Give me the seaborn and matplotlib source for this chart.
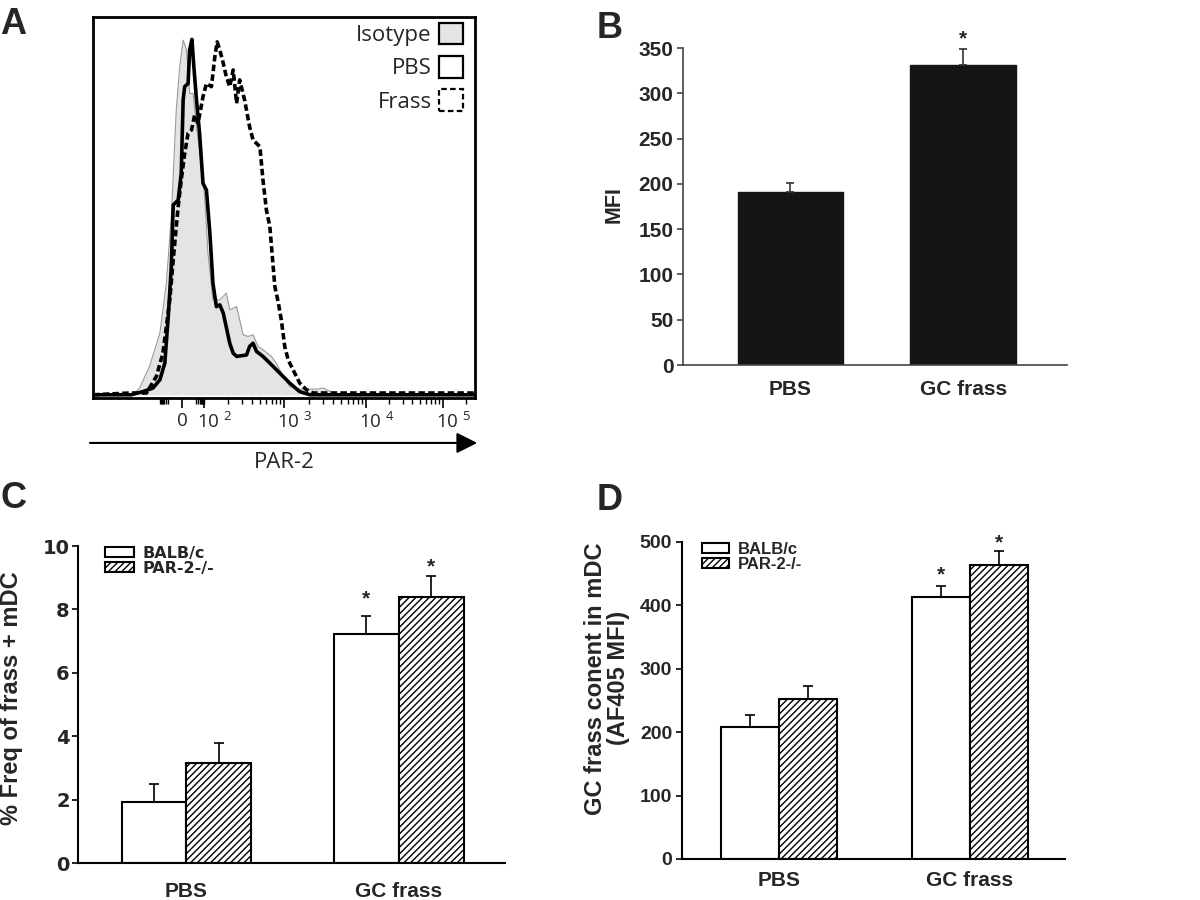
import numpy as np
import pandas as pd
import matplotlib
matplotlib.use("Agg")
import matplotlib.pyplot as plt
import matplotlib.transforms as mtrans
from matplotlib.patches import Patch
import seaborn as sns

# ---- panel A: PAR-2 histograms (x = % of display scale, y = % of max) ----
iso_x = [0, 10.5, 12.2, 14.8, 17.5, 19.2, 20.5, 21.8, 22.7, 23.6, 24.5, 25.3, 26.2, 27.1, 28.4, 29.3,
         30.1, 31.4, 33.2, 34.9, 35.8, 37.6, 38.4, 39.3, 40.6, 41.9, 43.2, 44.5, 46.7, 48.0, 49.8,
         51.5, 54.1, 58.5, 60.3, 62.9, 65.0, 100]
iso_y = [0, 0, 1.9, 8.0, 17.3, 31.4, 50.1, 80.1, 92.3, 99.8, 97.0, 84.8, 84.8, 75.4, 64.2, 54.8,
         39.8, 26.7, 26.7, 28.6, 23.9, 24.8, 21.1, 16.9, 16.4, 16.9, 13.6, 12.7, 10.8, 8.9, 5.2,
         2.3, 1.6, 1.6, 1.9, 0.5, 0, 0]
pbs_x = [0, 10.0, 13.1, 15.7, 17.5, 18.8, 19.7, 20.5, 21.0, 22.3, 23.1, 23.6, 24.0, 24.9, 25.3, 25.9,
         26.4, 27.1, 27.9, 28.8, 29.7, 30.6, 31.4, 32.3, 33.2, 34.1, 35.8, 36.7, 37.6, 40.2, 41.0,
         41.9, 42.8, 44.5, 46.3, 48.9, 51.5, 54.1, 56.8, 100]
pbs_y = [0, 0, 0.9, 1.9, 4.2, 8.9, 22.0, 36.1, 53.4, 54.8, 62.3, 82.9, 86.7, 87.6, 97.0, 100,
         92.3, 82.9, 73.6, 59.5, 57.6, 45.5, 31.4, 24.8, 25.3, 23.0, 14.5, 11.7, 10.8, 11.2, 13.6,
         14.5, 12.2, 10.8, 8.9, 6.1, 3.3, 0.9, 0, 0]
frass_x = [0, 9.6, 14.0, 16.6, 18.3, 20.1, 21.0, 22.3, 23.1, 24.0, 24.9, 25.8, 26.6, 27.5, 28.8, 29.7,
           31.0, 31.9, 32.5, 33.2, 34.1, 34.9, 35.8, 36.7, 37.6, 38.4, 39.7, 41.0, 41.9, 43.7, 44.5,
           45.4, 46.3, 47.6, 48.5, 49.3, 50.2, 51.1, 52.4, 54.1, 55.9, 57.6, 69.9, 100]
frass_y = [0, 0.5, 0.5, 5.2, 11.7, 26.7, 38.0, 53.0, 60.4, 67.9, 73.6, 74.5, 78.7, 76.4, 83.9, 87.6,
           86.7, 95.1, 99.3, 97.0, 93.3, 89.5, 86.7, 91.4, 82.0, 88.6, 82.9, 75.4, 71.7, 69.8, 60.4,
           52.0, 47.3, 30.5, 26.0, 21.1, 13.6, 9.8, 7.0, 3.3, 1.4, 0.5, 0.5, 0.5]
hist_labels = ["Isotype", "PBS", "Frass"]
decade_pos = [23.3, 29.1, 50.0, 71.5, 91.6]   # 0, 10^2, 10^3, 10^4, 10^5
decade_labels = ["0", "10 $^{2}$", "10 $^{3}$", "10 $^{4}$", "10 $^{5}$"]

# ---- panel B ----
groups = ["PBS", "GC frass"]
mfi = [191, 331]
mfi_err = [10, 18]
mfi_sig = [False, True]

# ---- panels C, D ----
strains = ["BALB/c", "PAR-2-/-"]
freq_balb = [1.94, 7.21]
freq_balb_err = [0.54, 0.57]
freq_par = [3.17, 8.38]
freq_par_err = [0.61, 0.67]
cont_balb = [208, 413]
cont_balb_err = [19, 17]
cont_par = [253, 463]
cont_par_err = [20, 23]
sig = [False, True]

sns.set_theme(style="ticks")
plt.rcParams["font.family"] = ["Liberation Sans", "DejaVu Sans"]
plt.rcParams["mathtext.fontset"] = "custom"
plt.rcParams["mathtext.rm"] = "Open Sans"
plt.rcParams["mathtext.it"] = "Open Sans:italic"
plt.rcParams["mathtext.bf"] = "Open Sans:bold"
plt.rcParams["hatch.linewidth"] = 1.0

fig = plt.figure(figsize=(12, 9), dpi=100)

# ================= A =================
axA = fig.add_axes([0.0775, 0.5578, 0.3183, 0.4233])
axA.fill_between(iso_x, iso_y, color="#e4e4e4", lw=0)
sns.lineplot(x=iso_x, y=iso_y, sort=False, estimator=None, color="#9a9a9a", lw=0.8, ax=axA)
sns.lineplot(x=pbs_x, y=pbs_y, sort=False, estimator=None, color="black", lw=2.6, ax=axA)
sns.lineplot(x=frass_x, y=frass_y, sort=False, estimator=None, color="black", lw=2.6,
             ls=(0, (1.8, 0.9)), ax=axA)
axA.set_xlim(0, 100)
axA.set_ylim(-0.9, 106.3)
axA.set_yticks([])
axA.set_xlabel("")
axA.set_ylabel("")
for s in axA.spines.values():
    s.set_linewidth(2)
    s.set_color("black")

minor = []
for i in range(1, 4):
    for m in range(2, 10):
        minor.append(decade_pos[i] + (decade_pos[i + 1] - decade_pos[i]) * np.log10(m))
minor.append(decade_pos[4] + (decade_pos[4] - decade_pos[3]) * np.log10(2))
half = decade_pos[1] - decade_pos[0]
for m in range(2, 10):
    d = half * np.log10(m * 10) / 2
    minor += [decade_pos[0] + d, decade_pos[0] - d]
axA.set_xticks(decade_pos)
axA.set_xticklabels(decade_labels, family="Open Sans", fontsize=13.5)
axA.set_xticks(minor, minor=True)
axA.tick_params(axis="x", which="major", length=7, width=1.2, direction="out", pad=3, color="black")
axA.tick_params(axis="x", which="minor", length=4, width=1.0, direction="out", color="black")
for lbl in axA.get_xticklabels()[1:]:
    lbl.set_horizontalalignment("left")
    lbl.set_transform(lbl.get_transform() + mtrans.ScaledTranslation(-0.07, 0, fig.dpi_scale_trans))

axA.annotate("", xy=(1.006, -0.118), xytext=(-0.008, -0.118), xycoords="axes fraction",
             arrowprops=dict(arrowstyle="-|>,head_length=0.7,head_width=0.35", color="black",
                             lw=1.5, mutation_scale=18, shrinkA=0, shrinkB=0),
             annotation_clip=False)
axA.text(0.5, -0.17, "PAR-2", transform=axA.transAxes, ha="center", va="center",
         family="Open Sans", fontsize=16)

handlesA = [Patch(facecolor="#e4e4e4", edgecolor="black", lw=1.6),
            Patch(facecolor="white", edgecolor="black", lw=1.6),
            Patch(facecolor="white", edgecolor="black", lw=1.6, ls=(0, (2.5, 1.5)))]
axA.legend(handlesA, hist_labels, loc="upper right", bbox_to_anchor=(1 - 12 / 382, 1 - 6 / 381),
           frameon=False, markerfirst=False, prop={"family": "Open Sans", "size": 16},
           handlelength=1.1, handleheight=1.1, labelspacing=0.45, handletextpad=0.3,
           borderaxespad=0, borderpad=0)


def add_errors(ax, container, errs, color="black", lw=1.2, cap=3.5):
    xs = [p.get_x() + p.get_width() / 2 for p in container]
    tops = [p.get_height() for p in container]
    ax.errorbar(xs, tops, yerr=[np.zeros(len(errs)), errs], fmt="none", ecolor=color,
                elinewidth=lw, capsize=cap, capthick=lw)
    return xs, tops


def add_stars(ax, xs, tops, errs, flags, size=15, off=2):
    for x, t, e, f in zip(xs, tops, errs, flags):
        if f:
            ax.annotate("*", xy=(x, t + e), xytext=(0, off), textcoords="offset points",
                        ha="center", va="baseline", fontsize=size, fontweight="bold")


def style_bar_axes(ax, tick_size, cat_size, cat_pad, ytick_pad, spine_color="black", lw=1.5):
    sns.despine(ax=ax)
    ax.spines["left"].set_linewidth(lw)
    ax.spines["bottom"].set_linewidth(lw)
    ax.spines["left"].set_color(spine_color)
    ax.spines["bottom"].set_color(spine_color)
    ax.tick_params(axis="x", length=0, pad=cat_pad, labelsize=cat_size)
    ax.tick_params(axis="y", length=4, width=1.2, direction="out", pad=ytick_pad,
                   labelsize=tick_size, color=spine_color)
    for lbl in ax.get_xticklabels() + ax.get_yticklabels():
        lbl.set_fontweight("bold")
    ax.set_xlabel("")


# ================= B =================
axB = fig.add_axes([0.5692, 0.5944, 0.32, 0.3522])
dfB = pd.DataFrame({"group": groups, "MFI": mfi})
sns.barplot(data=dfB, x="group", y="MFI", color="#151515", saturation=1, width=0.61,
            errorbar=None, edgecolor="#151515", ax=axB)
xs, tops = add_errors(axB, axB.containers[0], mfi_err, color="#333333", lw=1.2, cap=3)
add_stars(axB, xs, tops, mfi_err, mfi_sig, size=15, off=3)
axB.set_xlim(-0.62, 1.60)
axB.set_ylim(0, 350)
axB.set_yticks(np.arange(0, 351, 50))
style_bar_axes(axB, 15, 15, 11, 3, spine_color="#444444", lw=1.2)
axB.set_ylabel("MFI", fontsize=15.5, fontweight="bold")
axB.yaxis.set_label_coords(-0.151, 0.505)


# ================= C & D =================
def grouped_panel(rect, balb, balb_err, par, par_err, ylim, ystep, ylabel, label_xy,
                  leg_x, tick_family, tick_size, cat_pad, ytick_pad, leg_size, leg_hl, star_off):
    ax = fig.add_axes(rect)
    df = pd.DataFrame({"group": groups * 2,
                       "strain": [strains[0]] * 2 + [strains[1]] * 2,
                       "value": balb + par})
    sns.barplot(data=df, x="group", y="value", hue="strain", hue_order=strains,
                palette=["white", "white"], saturation=1, width=0.61, errorbar=None,
                edgecolor="black", linewidth=1.5, legend=False, ax=ax)
    for p in ax.containers[1]:
        p.set_hatch("/////")
    xs0, t0 = add_errors(ax, ax.containers[0], balb_err)
    xs1, t1 = add_errors(ax, ax.containers[1], par_err)
    add_stars(ax, xs0, t0, balb_err, sig, off=star_off[0])
    add_stars(ax, xs1, t1, par_err, sig, off=star_off[1])
    ax.set_xlim(-0.51, 1.50)
    ax.set_ylim(0, ylim)
    ax.set_yticks(np.arange(0, ylim + ystep / 2, ystep))
    style_bar_axes(ax, tick_size, 15, cat_pad, ytick_pad)
    for lbl in ax.get_yticklabels():
        lbl.set_family(tick_family)
    ax.set_ylabel(ylabel, fontsize=17, fontweight="bold", linespacing=1.0)
    ax.yaxis.set_label_coords(*label_xy)
    ax.legend([ax.containers[0][0], ax.containers[1][0]], strains, loc="upper left",
              bbox_to_anchor=(leg_x, 1.0), frameon=False, borderaxespad=0, borderpad=0,
              handlelength=leg_hl, handleheight=0.6, handletextpad=0.55, labelspacing=0.0,
              prop={"family": tick_family, "weight": "bold", "size": leg_size})
    return ax


axC = grouped_panel([0.065, 0.0411, 0.3558, 0.3522], freq_balb, freq_balb_err, freq_par,
                    freq_par_err, 10, 2, "% Freq of frass + mDC", (-0.129, 0.52), 27 / 427,
                    "DejaVu Sans", 14, 14, 2, 11.5, 1.8, (9, 3))
axD = grouped_panel([0.5683, 0.0456, 0.3192, 0.3522], cont_balb, cont_balb_err, cont_par,
                    cont_par_err, 500, 100, "GC frass conent in mDC\n(AF405 MFI)",
                    (-0.136, 0.57), 20 / 383, "Liberation Sans", 14, 9, 3, 12, 1.6, (4, 2))

# panel letters
for x, y, t in [(0.0, 25, "A"), (0.4975, 28, "B"), (0.0, 498, "C"), (0.4975, 500, "D")]:
    fig.text(x, 1 - y / 900, t, fontsize=26, fontweight="bold", ha="left", va="center")

fig.savefig("out.png", dpi=100)
